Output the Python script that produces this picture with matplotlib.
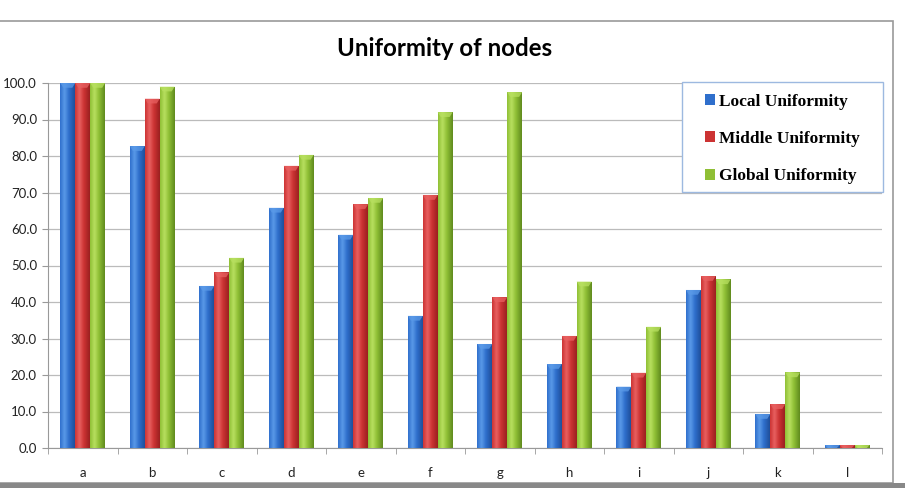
import matplotlib
matplotlib.use("Agg")
import matplotlib.pyplot as plt
import numpy as np
from matplotlib.patches import Rectangle, Polygon
from matplotlib.colors import LinearSegmentedColormap

# data
categories = ["a", "b", "c", "d", "e", "f", "g", "h", "i", "j", "k", "l"]
local_u = [100.0, 82.7, 44.4, 65.8, 58.4, 36.2, 28.5, 23.0, 16.8, 43.3, 9.3, 0.8]
middle_u = [100.0, 95.7, 48.1, 77.3, 66.8, 69.3, 41.3, 30.7, 20.6, 47.1, 12.0, 0.8]
global_u = [100.0, 99.0, 52.1, 80.3, 68.5, 92.0, 97.5, 45.6, 33.2, 46.2, 20.7, 0.8]
series_names = ["Local Uniformity", "Middle Uniformity", "Global Uniformity"]

# dark edge, light, base colours for the shaded bars
palettes = [
    ("#1f4f9a", "#5a9ae8", "#2f6fcc"),
    ("#9a2020", "#e86060", "#cc3333"),
    ("#5f8a1e", "#b8e060", "#8fbf35"),
]

fig = plt.figure(figsize=(9.05, 4.88), dpi=100)
ax = fig.add_axes([48 / 905, 1 - 448 / 488, (882 - 48) / 905, (448 - 83) / 488])

x = np.arange(len(categories))
w = 0.215
offsets = [-w, 0, w]
grad = np.linspace(0, 1, 64).reshape(1, -1)

for vals, off, (dark, light, base), name in zip(
        [local_u, middle_u, global_u], offsets, palettes, series_names):
    bars = ax.bar(x + off, vals, w, color=base, label=name, zorder=2,
                  linewidth=0)
    cmap = LinearSegmentedColormap.from_list(
        name, [(0, base), (0.3, light), (0.6, base), (1.0, dark)])
    for b in bars:
        x0, h, bw = b.get_x(), b.get_height(), b.get_width()
        im = ax.imshow(grad, cmap=cmap, aspect="auto", zorder=3,
                       extent=[x0, x0 + bw, 0, h], interpolation="bicubic")
        im.set_clip_path(b)
        # lighter chamfer at the top of each bar
        cap = min(1.3, h)
        ax.add_patch(Polygon([(x0, h), (x0 + bw, h), (x0 + bw * 0.8, h - cap),
                              (x0 + bw * 0.2, h - cap)],
                             closed=True, color=light, alpha=0.75, zorder=4,
                             linewidth=0))

ax.set_xlim(-0.5, len(categories) - 0.5)
ax.set_ylim(0, 100)
ax.set_yticks(np.arange(0, 101, 10))
ax.set_yticklabels([f"{v:.1f}" for v in np.arange(0, 101, 10)])
ax.set_xticks(x)
ax.set_xticklabels(categories)
ax.set_xticks(np.arange(-0.5, len(categories), 1), minor=True)
ax.tick_params(axis="x", which="major", length=0, pad=14)
ax.tick_params(axis="x", which="minor", length=4, color="#999999", direction="out")
ax.tick_params(axis="y", length=4, color="#999999", pad=4)
for lab in ax.get_xticklabels() + ax.get_yticklabels():
    lab.set_fontfamily("Lato")
    lab.set_fontsize(9.5)
    lab.set_color("#222222")

ax.grid(axis="y", color="#bbbbbb", linewidth=0.9, zorder=0)
ax.set_axisbelow(True)
for s in ["top", "right"]:
    ax.spines[s].set_visible(False)
ax.spines["left"].set_color("#999999")
ax.spines["bottom"].set_color("#999999")
ax.set_facecolor("none")

fig.text(445 / 905, 1 - 48 / 488, "Uniformity of nodes", ha="center", va="center",
         fontsize=17.3, fontweight="bold", family="Lato")

# legend box drawn separately so the side padding can be wider than the top
box = Rectangle((682 / 905, 1 - 192 / 488), (883 - 682) / 905, (192 - 82) / 488,
                transform=fig.transFigure, facecolor="white",
                edgecolor="#9db9e0", linewidth=1.0, zorder=9, clip_on=False)
ax.add_patch(box)
leg = ax.legend(loc="center", bbox_to_anchor=((782 - 48) / (882 - 48), (448 - 139) / (448 - 83)),
                prop={"family": "Liberation Serif", "weight": "bold", "size": 12.5},
                frameon=False, handlelength=0.6, handleheight=0.6,
                handletextpad=0.2, labelspacing=1.23, borderpad=0, borderaxespad=0)
leg.set_zorder(10)

# outer frame like the screenshot
fig.add_artist(Rectangle((-0.01, 1 - 483 / 488), 893 / 905 + 0.01, (483 - 21) / 488,
                         transform=fig.transFigure, fill=False,
                         edgecolor="#999999", linewidth=1.2))
fig.add_artist(Rectangle((0, 0), 1, 5 / 488, transform=fig.transFigure,
                         color="#888888", linewidth=0))

fig.savefig("out.png", dpi=100)
